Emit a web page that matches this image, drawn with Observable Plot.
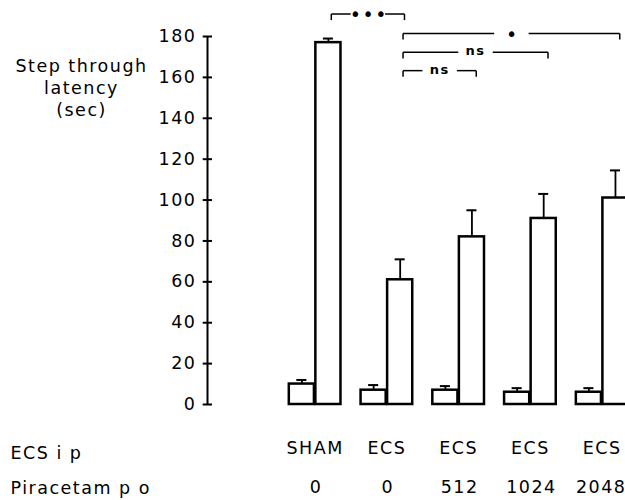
<!DOCTYPE html>
<html><head><meta charset="utf-8">
<script src="https://cdn.jsdelivr.net/npm/d3@7"></script>
<script src="https://cdn.jsdelivr.net/npm/@observablehq/plot@0.6"></script>
<style>body{margin:0;background:#fff}</style>
</head><body><div id="chart"></div>
<script>
// ---- data ----
const groups = ["SHAM", "ECS", "ECS", "ECS", "ECS"];
const doses = ["0", "0", "512", "1024", "2048"];
const trainingMeans = [10, 7, 7, 6, 6];
const trainingSEM = [2, 2.5, 2, 2, 2];
const retentionMeans = [177, 61, 82, 91, 101];
const retentionSEM = [2, 10, 13, 12, 13.5];
const yTicks = [0, 20, 40, 60, 80, 100, 120, 140, 160, 180];
const rowLabels = ["ECS i p", "Piracetam p o"];
const yTitle = "Step through\nlatency\n(sec)";
const bracketFrom = [0, 1, 1, 1];
const bracketTo = [1, 4, 3, 2];
const bracketLabels = ["•••", "•", "ns", "ns"];
const bracketLevels = [191, 181.5, 172.3, 163.3];

// ---- derived tables ----
const xMin = -1.5, xMax = 4.325;
const bars = groups.flatMap((g, i) => [
  {i, side: -1, mean: trainingMeans[i], sem: trainingSEM[i]},
  {i, side: 1, mean: retentionMeans[i], sem: retentionSEM[i]}
]);
const barX1 = d => d.side < 0 ? d.i - 0.36 : d.i + 0.01;
const barX2 = d => d.side < 0 ? d.i - 0.01 : d.i + 0.36;
const barC = d => d.i + d.side * 0.185;

const brackets = bracketFrom.map((f, k) => ({
  a: f + 0.225, b: bracketTo[k] + 0.245, y: bracketLevels[k], label: bracketLabels[k]
}));
const gap = 0.24, drop = 3;
const segs = brackets.flatMap(d => {
  const m = (d.a + d.b) / 2;
  return [
    {x1: d.a, y1: d.y - drop, x2: d.a, y2: d.y},
    {x1: d.a, y1: d.y, x2: m - gap, y2: d.y},
    {x1: m + gap, y1: d.y, x2: d.b, y2: d.y},
    {x1: d.b, y1: d.y, x2: d.b, y2: d.y - drop}
  ];
});
const doseRows = doses.map((d, i) => ({i, d}));

const font = "DejaVu Sans";
const chart = Plot.plot({
  width: 625, height: 500,
  marginLeft: 207, marginRight: 0, marginTop: 36, marginBottom: 96,
  style: {fontFamily: font, fontSize: "17.5px", letterSpacing: "1.5px", color: "#000", background: "#fff"},
  x: {domain: [xMin, xMax], axis: null},
  y: {domain: [0, 180]},
  marks: [
    // y axis
    Plot.ruleX([xMin], {y1: 0, y2: 180, stroke: "#000", strokeWidth: 2}),
    Plot.ruleY(yTicks, {x1: xMin - 0.06, x2: xMin + 0.07, stroke: "#000", strokeWidth: 2}),
    Plot.axisY({ticks: yTicks, tickSize: 0, tickPadding: 11, fontSize: 17.5}),
    // y title
    Plot.text([yTitle], {frameAnchor: "top-left", text: d => d, textAnchor: "middle", lineAnchor: "top", lineHeight: 1.25, dx: -126, dy: 20, fill: "#000"}),
    // bars
    Plot.rect(bars, {x1: barX1, x2: barX2, y1: 0, y2: "mean", fill: "#fff", stroke: "#000", strokeWidth: 2.5}),
    // error bars
    Plot.ruleX(bars, {x: barC, y1: "mean", y2: d => d.mean + d.sem, stroke: "#000", strokeWidth: 1.8}),
    Plot.ruleY(bars, {y: d => d.mean + d.sem, x1: d => barC(d) - 0.07, x2: d => barC(d) + 0.07, stroke: "#000", strokeWidth: 2}),
    // significance brackets
    Plot.link(segs, {x1: "x1", y1: "y1", x2: "x2", y2: "y2", stroke: "#000", strokeWidth: 1.5}),
    Plot.text(brackets.filter(d => d.label !== "ns"), {x: d => (d.a + d.b) / 2, y: "y", text: "label", fontSize: 19, letterSpacing: "-8px", dy: 1, dx: 1, fill: "#000"}),
    Plot.text(brackets.filter(d => d.label === "ns"), {x: d => (d.a + d.b) / 2, y: "y", text: "label", fontSize: 13, fontWeight: "bold", letterSpacing: "1px", dy: -1, fill: "#000"}),
    // category labels
    Plot.text(groups, {x: (d, i) => i, y: 0, text: d => d, lineAnchor: "bottom", dy: 49, fill: "#000"}),
    Plot.text(doseRows.slice(0, 4), {x: "i", y: 0, text: "d", lineAnchor: "bottom", dy: 88, dx: 1, letterSpacing: "1px", fill: "#000"}),
    Plot.text(doseRows.slice(4), {x: "i", y: 0, text: "d", lineAnchor: "bottom", dy: 88, dx: -1, letterSpacing: "0.8px", fill: "#000"}),
    // row labels at left
    Plot.text(rowLabels.slice(0, 1), {frameAnchor: "bottom-left", text: d => d, textAnchor: "start", lineAnchor: "bottom", dx: -197, dy: 54, letterSpacing: "2px", fill: "#000"}),
    Plot.text(rowLabels.slice(1), {frameAnchor: "bottom-left", text: d => d, textAnchor: "start", lineAnchor: "bottom", dx: -197, dy: 89, letterSpacing: "2.6px", fill: "#000"})
  ]
});
document.getElementById("chart").appendChild(chart);
</script></body></html>
